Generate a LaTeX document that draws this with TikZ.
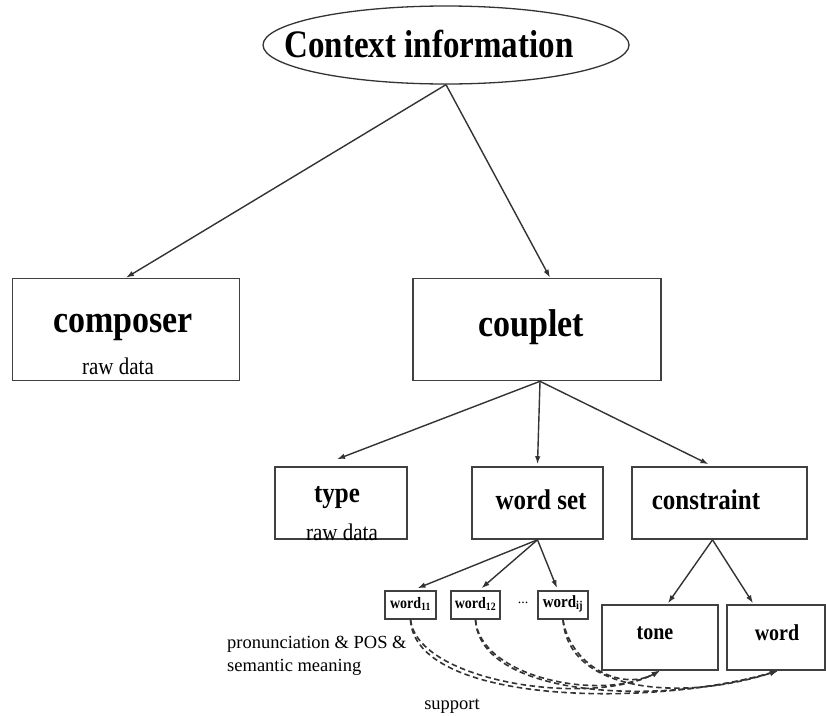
\documentclass[tikz,border=0pt]{standalone}
\usepackage{fontspec}
\setmainfont{Liberation Serif}
\usetikzlibrary{arrows.meta,calc,shapes.geometric}

% labels are set slightly taller than the font's natural shape
\newcommand{\tallbox}[1]{\scalebox{1}[1.14]{#1}}

\begin{document}
\begin{tikzpicture}[x=1pt,y=-1pt,
  box/.style={draw=black!75, line width=1.6pt, inner sep=0pt, fill=white},
  conn/.style={draw=black!80, line width=1.4pt, -{Latex[length=8pt,width=5.5pt]}},
  dconn/.style={conn, line width=1.6pt, dash pattern=on 5.5pt off 3.5pt},
  big/.style={font=\fontsize{33}{38}\selectfont\bfseries},
  mid/.style={font=\fontsize{34}{38}\selectfont\bfseries},
  sml/.style={font=\fontsize{25}{30}\selectfont\bfseries},
  low/.style={font=\fontsize{20}{24}\selectfont\bfseries},
  tiny/.style={font=\fontsize{14}{16}\selectfont\bfseries},
  note/.style={font=\fontsize{18.5}{23}\selectfont, inner sep=0pt},
  raw/.style={font=\fontsize{21}{24}\selectfont, inner sep=0pt}
]
\useasboundingbox[fill=white] (0,0) rectangle (826,715);

% top ellipse
\node[ellipse, draw=black!80, line width=1.3pt, minimum width=366pt, minimum height=78pt, inner sep=0pt] (ctx) at (446,45) {};
\node[big] (ctxt) at (429,44) {\scalebox{1}[1.18]{Context information}};

% second level
\node[box, minimum width=227pt, minimum height=102pt] (composer) at (126,329.5) {};
\node[mid] (composert) at (123,327) {\tallbox{composer}};
\node[raw] (composerraw) at (118,366) {\tallbox{raw data}};
\node[box, minimum width=248pt, minimum height=102pt] (couplet) at (537,329.5) {};
\node[mid] (couplett) at (531,327) {\tallbox{couplet}};

% third level
\node[box, minimum width=132pt, minimum height=72pt] (type) at (341,503) {};
\node[sml] (typet) at (337,498) {\tallbox{type}};
\node[raw] (typeraw) at (342,532) {\tallbox{raw data}};
\node[box, minimum width=131pt, minimum height=72pt] (wordset) at (537.5,503) {};
\node[sml] (wordsett) at (541,500) {\tallbox{word set}};
\node[box, minimum width=175pt, minimum height=72pt] (constraint) at (719.5,503) {};
\node[sml] (constraintt) at (706,500) {\tallbox{constraint}};

% word items
\node[box, minimum width=51pt, minimum height=28pt] (w11) at (410.5,605) {};
\node[tiny] (w11t) at (410.5,604) {\tallbox{word\textsubscript{11}}};
\node[box, minimum width=49pt, minimum height=28pt] (w12) at (475.5,605) {};
\node[tiny] (w12t) at (475.5,604) {\tallbox{word\textsubscript{12}}};
\node[tiny] (dots) at (523,603) {\mdseries...};
\node[box, minimum width=50pt, minimum height=28pt] (wij) at (563,605) {};
\node[tiny, font=\fontsize{15}{17}\selectfont\bfseries] (wijt) at (563,604) {\tallbox{word\textsubscript{ij}}};

% constraint items
\node[box, minimum width=116pt, minimum height=65pt] (tone) at (660,637.5) {};
\node[low] (tonet) at (655,633) {\tallbox{tone}};
\node[box, minimum width=98pt, minimum height=65pt] (wordb) at (776,637.5) {};
\node[low] (wordbt) at (777,633) {\tallbox{word}};

% annotations
\node[note, anchor=west, align=left] (feat) at (227,656) {pronunciation \& POS \&\\semantic meaning};
\node[note] (support) at (452,706) {support};

% solid connectors
\draw[conn] (ctx.south) -- (composer.north);
\draw[conn] (ctx.south) -- ($(couplet.north)+(13,0)$);
\draw[conn] ($(couplet.south)+(3,0)$) -- ($(type.north)+(-4,-7)$);
\draw[conn] ($(couplet.south)+(3,0)$) -- ($(wordset.north)+(0,-2)$);
\draw[conn] ($(couplet.south)+(3,0)$) -- ($(constraint.north)+(-11,-2)$);
\draw[conn] (wordset.south) -- ($(w11.north)+(7,-2)$);
\draw[conn] (wordset.south) -- ($(w12.north)+(6,-2)$);
\draw[conn] (wordset.south) -- ($(wij.north)+(-6,-2)$);
\draw[conn] ($(constraint.south)+(-7,0)$) -- ($(tone.north)+(8,-1)$);
\draw[conn] ($(constraint.south)+(-7,0)$) -- ($(wordb.north)+(-23,-1)$);

% dashed support links
\draw[dconn] (w11.south) .. controls (418,682) and (590,707) .. (tone.south);
\draw[dconn] (w11.south) .. controls (415,704) and (650,708) .. ($(wordb.south)+(2,0)$);
\draw[dconn] (w12.south) .. controls (480,677) and (600,702) .. (tone.south);
\draw[dconn] (w12.south) .. controls (480,698) and (660,706) .. ($(wordb.south)+(2,0)$);
\draw[dconn] (wij.south) .. controls (570,664) and (620,692) .. (tone.south);
\draw[dconn] (wij.south) .. controls (568,692) and (680,702) .. ($(wordb.south)+(2,0)$);
\end{tikzpicture}
\end{document}
